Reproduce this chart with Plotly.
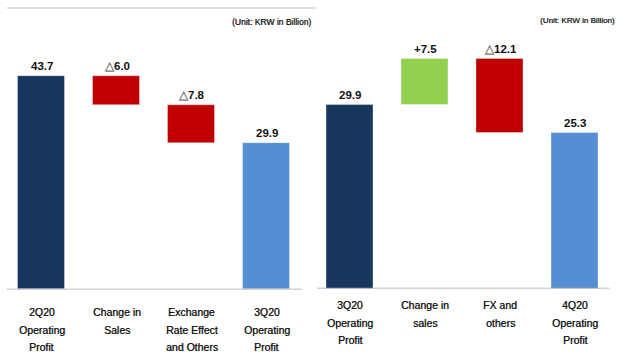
import plotly.graph_objects as go

W, H = 617, 354

# Operating profit bridge, 2Q20 -> 3Q20 (KRW bn)
left_categories = ["2Q20<br>Operating<br>Profit", "Change in<br>Sales",
                   "Exchange<br>Rate Effect<br>and Others", "3Q20<br>Operating<br>Profit"]
left_values = [43.7, -6.0, -7.8, 29.9]
left_measures = ["absolute", "relative", "relative", "total"]

# Operating profit bridge, 3Q20 -> 4Q20 (KRW bn)
right_categories = ["3Q20<br>Operating<br>Profit", "Change in<br>sales",
                    "FX and<br>others", "4Q20<br>Operating<br>Profit"]
right_values = [29.9, 7.5, -12.1, 25.3]
right_measures = ["absolute", "relative", "relative", "total"]

unit_label = "(Unit: KRW in Billion)"

NAVY = "#17375E"
RED = "#C00000"
GREEN = "#92D050"
LIGHT = "#558ED5"
TEXT = "#111111"
GRAY_TRI = "#808080"
FONT = "Liberation Sans Narrow, Arial Narrow, Liberation Sans, Arial, sans-serif"
HEAVY = "0.45px 0px 0px rgba(17,17,17,0.7)"


def py(px):
    """Pixel row (from top) -> paper y."""
    return 1 - px / H


def px_x(px):
    return px / W


def bridge(values, measures):
    bases, heights, colors, labels = [], [], [], []
    running = 0.0
    for v, m in zip(values, measures):
        if m == "absolute":
            base, h, color = 0.0, v, NAVY
            running = v
            label = f"{v:.1f}"
        elif m == "total":
            base, h, color = 0.0, v, LIGHT
            label = f"{v:.1f}"
        else:
            if v < 0:
                base, h, color = running + v, -v, RED
                label = f"<span style='color:{GRAY_TRI}'>△</span>{-v:.1f}"
            else:
                base, h, color = running, v, GREEN
                label = f"+{v:.1f}"
            running += v
        bases.append(base)
        heights.append(h)
        colors.append(color)
        labels.append(label)
    return bases, heights, colors, labels


fig = go.Figure()

panels = [
    dict(cats=left_categories, vals=left_values, meas=left_measures,
         xa="x", ya="y", cat_top=312),
    dict(cats=right_categories, vals=right_values, meas=right_measures,
         xa="x2", ya="y2", cat_top=305),
]

annotations = []
for p in panels:
    bases, heights, colors, labels = bridge(p["vals"], p["meas"])
    xs = list(range(len(p["cats"])))
    fig.add_trace(go.Bar(
        x=xs, y=heights, base=bases, width=0.62,
        marker=dict(color=colors, line=dict(color="rgba(255,255,255,0.35)", width=1)),
        xaxis=p["xa"], yaxis=p["ya"], showlegend=False, hoverinfo="skip",
    ))
    for i, (b, h, lab) in enumerate(zip(bases, heights, labels)):
        annotations.append(dict(
            x=i, y=b + h, xref=p["xa"], yref=p["ya"], text=f"<b>{lab}</b>",
            showarrow=False, yanchor="bottom", yshift=2,
            font=dict(family=FONT, size=11.5, color=TEXT),
        ))
    for i, cat in enumerate(p["cats"]):
        for j, line in enumerate(cat.split("<br>")):
            annotations.append(dict(
                x=i, y=py(p["cat_top"] + j * 17.5), xref=p["xa"], yref="paper",
                text=line, showarrow=False, yanchor="middle",
                font=dict(family=FONT, size=10.5, color=TEXT, shadow=HEAVY),
            ))

annotations.append(dict(x=px_x(313), y=py(22), xref="paper", yref="paper",
                        text=unit_label, showarrow=False, xanchor="right", yanchor="middle",
                        font=dict(family=FONT, size=8.5, color=TEXT, shadow=HEAVY)))
annotations.append(dict(x=px_x(617), y=py(20), xref="paper", yref="paper",
                        text=unit_label, showarrow=False, xanchor="right", yanchor="middle",
                        font=dict(family=FONT, size=8, color=TEXT, shadow=HEAVY)))

shapes = [
    # rule across the top of the left panel
    dict(type="line", xref="paper", yref="paper", x0=px_x(7), x1=px_x(316),
         y0=py(8), y1=py(8), line=dict(color="#BFBFBF", width=1.2)),
    # category baselines
    dict(type="line", xref="x domain", yref="y", x0=0.01, x1=0.993, y0=0, y1=0,
         line=dict(color="#A6A6A6", width=1.5)),
    dict(type="line", xref="x2 domain", yref="y2", x0=0.015, x1=0.99, y0=0, y1=0,
         line=dict(color="#A6A6A6", width=1.5)),
]

axis_off = dict(showgrid=False, zeroline=False, showticklabels=False, showline=False,
                ticks="", fixedrange=True)

fig.update_layout(
    width=W, height=H,
    margin=dict(l=0, r=0, t=0, b=0),
    paper_bgcolor="white", plot_bgcolor="rgba(0,0,0,0)",
    bargap=0,
    xaxis=dict(domain=[px_x(4), px_x(304)], range=[-0.5, 3.5], **axis_off),
    yaxis=dict(domain=[py(289.5), py(45.2)], range=[0, 50], **axis_off),
    xaxis2=dict(domain=[px_x(312.5), px_x(612.5)], range=[-0.5, 3.5], anchor="y2", **axis_off),
    yaxis2=dict(domain=[py(288.5), py(43)], range=[0, 40], anchor="x2", **axis_off),
    annotations=annotations,
    shapes=shapes,
)

fig.write_html("out.html")
